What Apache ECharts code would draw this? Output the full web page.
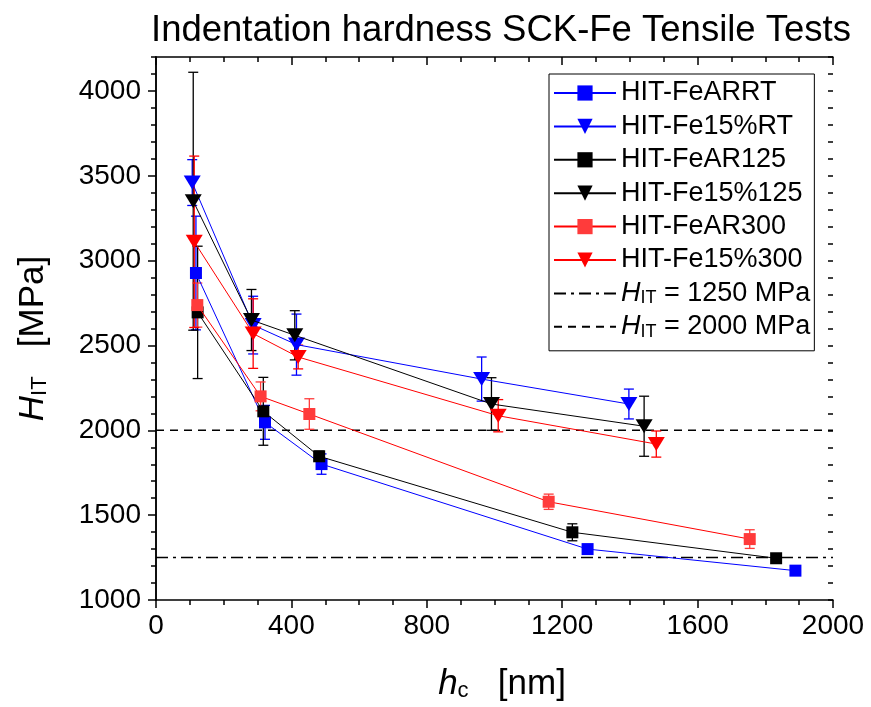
<!DOCTYPE html>
<html><head><meta charset="utf-8">
<script src="https://cdn.jsdelivr.net/npm/echarts@6/dist/echarts.min.js"></script>
<style>html,body{margin:0;padding:0;background:#fff}#c{width:871px;height:707px}</style>
</head><body><div id="c"></div>
<script>
// ---- data ----
const seriesNames = ['HIT-FeARRT','HIT-Fe15%RT','HIT-FeAR125','HIT-Fe15%125','HIT-FeAR300','HIT-Fe15%300'];
const feARRT_x = [118, 322, 489, 1275, 1889];
const feARRT_y = [2927, 2047, 1801, 1300, 1173];
const feARRT_e = [335, 100, 60, 22, 12];
const fe15RT_x = [107, 287, 415, 962, 1397];
const fe15RT_y = [3460, 2620, 2505, 2302, 2155];
const fe15RT_e = [135, 170, 180, 130, 88];
const feAR125_x = [123, 317, 482, 1230, 1832];
const feAR125_y = [2695, 2112, 1847, 1399, 1246];
const feAR125_e = [390, 200, 30, 50, 25];
const fe15_125_x = [110, 282, 410, 991, 1442];
const fe15_125_y = [3350, 2650, 2560, 2155, 2024];
const fe15_125_e = [760, 180, 145, 155, 177];
const feAR300_x = [122, 309, 453, 1160, 1754];
const feAR300_y = [2738, 2200, 2096, 1579, 1359];
const feAR300_e = [130, 85, 90, 45, 55];
const fe15_300_x = [113, 287, 420, 1011, 1478];
const fe15_300_y = [3111, 2570, 2432, 2086, 1919];
const fe15_300_e = [505, 205, 70, 95, 77];
const refX = [0, 2000];
const ref1250 = [1250, 1250];
const ref2000 = [2000, 2000];
const xTicks = [0, 400, 800, 1200, 1600, 2000];
const yTicks = [1000, 1500, 2000, 2500, 3000, 3500, 4000];

// ---- build ----
const FONT = 'Liberation Sans, Arial, sans-serif';
const defs = [
  {x: feARRT_x, y: feARRT_y, e: feARRT_e, sym: 'rect', color: '#0000FF', line: '#0000FF'},
  {x: fe15RT_x, y: fe15RT_y, e: fe15RT_e, sym: 'tri', color: '#0000FF', line: '#0000FF'},
  {x: feAR125_x, y: feAR125_y, e: feAR125_e, sym: 'rect', color: '#000000', line: '#000000'},
  {x: fe15_125_x, y: fe15_125_y, e: fe15_125_e, sym: 'tri', color: '#000000', line: '#000000'},
  {x: feAR300_x, y: feAR300_y, e: feAR300_e, sym: 'rect', color: '#FF3B3B', line: '#FF0000'},
  {x: fe15_300_x, y: fe15_300_y, e: fe15_300_e, sym: 'tri', color: '#FF0000', line: '#FF0000'}
];
const series = [];
defs.forEach((d, i) => {
  const pts = d.x.map((v, k) => [v, d.y[k], d.e[k]]);
  series.push({
    type: 'custom', name: seriesNames[i] + '_err', xAxisIndex: 0, yAxisIndex: 0, z: 2 + i,
    data: pts, silent: true,
    renderItem: function (params, api) {
      const x = api.value(0), y = api.value(1), e = api.value(2);
      const t = api.coord([x, y + e]), b = api.coord([x, y - e]);
      const hw = 5, st = {stroke: d.color, lineWidth: 1.3};
      return {type: 'group', children: [
        {type: 'line', shape: {x1: t[0], y1: t[1], x2: b[0], y2: b[1]}, style: st},
        {type: 'line', shape: {x1: t[0] - hw, y1: t[1], x2: t[0] + hw, y2: t[1]}, style: st},
        {type: 'line', shape: {x1: b[0] - hw, y1: b[1], x2: b[0] + hw, y2: b[1]}, style: st}
      ]};
    }
  });
  series.push({
    type: 'line', name: seriesNames[i], xAxisIndex: 0, yAxisIndex: 0, z: 10 + i,
    data: pts.map(p => [p[0], p[1]]),
    symbol: d.sym === 'rect' ? 'rect' : 'triangle',
    symbolRotate: d.sym === 'rect' ? 0 : 180,
    symbolSize: d.sym === 'rect' ? 12 : [17, 14],
    itemStyle: {color: d.color, borderWidth: 0},
    lineStyle: {color: d.line, width: 1},
    emphasis: {disabled: true}
  });
});
series.push({type: 'line', name: 'r1250', data: refX.map((v, k) => [v, ref1250[k]]), symbol: 'none',
  itemStyle: {color: '#000', opacity: 0},
  lineStyle: {color: '#000', width: 1.5, type: [12, 5, 3, 5]}, z: 1, xAxisIndex: 0, yAxisIndex: 0});
series.push({type: 'line', name: 'r2000', data: refX.map((v, k) => [v, ref2000[k]]), symbol: 'none',
  itemStyle: {color: '#000', opacity: 0},
  lineStyle: {color: '#000', width: 1.5, type: [8, 6]}, z: 1, xAxisIndex: 0, yAxisIndex: 0});

const axLine = {show: true, lineStyle: {color: '#000', width: 1.5}};
const plain = v => String(v);
const baseX = {type: 'value', min: 0, max: 2000, interval: 400, axisLine: axLine, splitLine: {show: false}};
const baseY = {type: 'value', min: 1000, max: 4200, interval: 500, axisLine: axLine, splitLine: {show: false}};
const nameRich = {i: {fontSize: 35, fontStyle: 'italic', fontFamily: FONT, color: '#000'},
  s: {fontSize: 22, fontFamily: FONT, color: '#000', verticalAlign: 'bottom', lineHeight: 18},
  n: {fontSize: 35, fontFamily: FONT, color: '#000'}};
const option = {
  animation: false,
  backgroundColor: '#fff',
  title: {text: 'Indentation hardness SCK-Fe Tensile Tests', left: 496, textAlign: 'center', top: 7,
    textStyle: {fontSize: 36.5, fontWeight: 'normal', fontFamily: FONT, color: '#000'}},
  grid: {left: 156, right: 38, top: 57, bottom: 106},
  legend: {
    orient: 'vertical', left: 549, top: 74, padding: [5, 4, 10, 4],
    borderColor: '#000', borderWidth: 1, itemWidth: 62, itemHeight: 19, itemGap: 5.4,
    data: seriesNames.concat(['r1250', 'r2000']),
    textStyle: {fontSize: 27, lineHeight: 28, fontFamily: FONT, color: '#000',
      rich: {i: {fontSize: 27, fontStyle: 'italic', fontFamily: FONT, color: '#000'},
             s: {fontSize: 18, fontFamily: FONT, color: '#000', verticalAlign: 'bottom', lineHeight: 14},
             n: {fontSize: 27, fontFamily: FONT, color: '#000'}}},
    formatter: function (name) {
      if (name === 'r1250') return '{i|H}{s|IT}{n| = 1250 MPa}';
      if (name === 'r2000') return '{i|H}{s|IT}{n| = 2000 MPa}';
      return name;
    }
  },
  xAxis: [
    Object.assign({}, baseX, {position: 'bottom',
      axisTick: {show: true, inside: false, length: 8, lineStyle: {width: 1.5, color: '#000'}},
      minorTick: {show: true, splitNumber: 4, length: 5, lineStyle: {width: 1.5, color: '#000'}},
      axisLabel: {fontSize: 28, fontFamily: FONT, color: '#000', margin: 12, customValues: xTicks, formatter: plain},
      name: '{i|h}{s|c}{n|   [nm]}', nameLocation: 'middle', nameGap: 67,
      nameTextStyle: {rich: nameRich, padding: [0, 0, 0, 15]}}),
    Object.assign({}, baseX, {position: 'top',
      axisTick: {show: true, inside: true, length: 8, lineStyle: {width: 1.5, color: '#000'}},
      minorTick: {show: true, splitNumber: 4, length: 5, lineStyle: {width: 1.5, color: '#000'}},
      axisLabel: {show: false}})
  ],
  yAxis: [
    Object.assign({}, baseY, {position: 'left',
      axisTick: {show: true, inside: false, length: 8, customValues: yTicks, lineStyle: {width: 1.5, color: '#000'}},
      axisLabel: {fontSize: 28, fontFamily: FONT, color: '#000', margin: 15, customValues: yTicks, formatter: plain},
      name: '{i|H}{s|IT}{n|   [MPa]}', nameLocation: 'middle', nameGap: 105, nameRotate: 90,
      nameTextStyle: {rich: nameRich, padding: [0, 20, 0, 0]}}),
    Object.assign({}, baseY, {position: 'right',
      axisTick: {show: true, inside: true, length: 8, customValues: yTicks, lineStyle: {width: 1.5, color: '#000'}},
      axisLabel: {show: false}}),
    Object.assign({}, baseY, {position: 'left', interval: 100, axisLine: {show: false},
      axisTick: {show: true, inside: false, length: 5, lineStyle: {width: 1.5, color: '#000'}},
      axisLabel: {show: false}}),
    Object.assign({}, baseY, {position: 'right', interval: 100, axisLine: {show: false},
      axisTick: {show: true, inside: true, length: 5, lineStyle: {width: 1.5, color: '#000'}},
      axisLabel: {show: false}})
  ],
  series: series
};
const chart = echarts.init(document.getElementById('c'), null, {renderer: 'canvas'});
chart.setOption(option);
</script></body></html>
